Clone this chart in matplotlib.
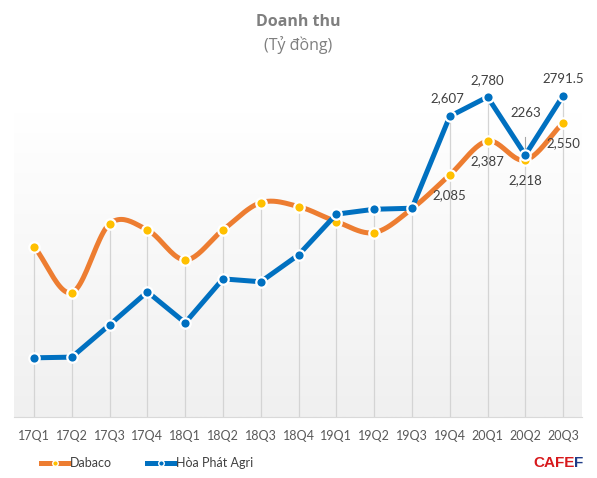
import numpy as np
import matplotlib.pyplot as plt
from matplotlib.lines import Line2D

plt.rcParams['font.family'] = ['Lato', 'DejaVu Sans']

quarters = ['17Q1', '17Q2', '17Q3', '17Q4', '18Q1', '18Q2', '18Q3', '18Q4',
            '19Q1', '19Q2', '19Q3', '19Q4', '20Q1', '20Q2', '20Q3']
dabaco = [1448, 1038, 1650, 1596, 1329, 1596, 1839, 1804,
          1670, 1572, 1785, 2085, 2387, 2218, 2550]
hoa_phat = [457, 463, 751, 1045, 769, 1160, 1134, 1374,
            1736, 1780, 1789, 2607, 2780, 2263, 2791.5]

# labels shown only for the last quarters
dabaco_labels = {11: '2,085', 12: '2,387', 13: '2,218', 14: '2,550'}
hoa_phat_labels = {11: '2,607', 12: '2,780', 13: '2263', 14: '2791.5'}

ORANGE = '#ED7D31'
GOLD = '#FFC000'
BLUE = '#0070C0'
LABEL = '#404040'


def catmull_rom(x, y, n=24):
    # smooth curve through the points, like excel's smoothed line
    x = np.asarray(x, float)
    y = np.asarray(y, float)
    px = np.concatenate([[2 * x[0] - x[1]], x, [2 * x[-1] - x[-2]]])
    py = np.concatenate([[2 * y[0] - y[1]], y, [2 * y[-1] - y[-2]]])
    xs, ys = [], []
    t = np.linspace(0, 1, n)
    for i in range(1, len(px) - 2):
        for p, out in ((px, xs), (py, ys)):
            p0, p1, p2, p3 = p[i - 1], p[i], p[i + 1], p[i + 2]
            seg = 0.5 * ((2 * p1) + (-p0 + p2) * t +
                         (2 * p0 - 5 * p1 + 4 * p2 - p3) * t ** 2 +
                         (-p0 + 3 * p1 - 3 * p2 + p3) * t ** 3)
            out.extend(seg)
    return np.array(xs), np.array(ys)


fig = plt.figure(figsize=(5.97, 4.78), dpi=100)
ax = fig.add_axes([14 / 597, 1 - 417 / 478, 568 / 597, 347 / 478])

ymin, ymax = -70, 3020
ax.set_xlim(-0.53, 14.5)
ax.set_ylim(ymin, ymax)

# gradient background
grad = np.linspace(1, 0, 256).reshape(-1, 1)
ax.imshow(grad, extent=[-0.53, 14.5, ymin, 2640], aspect='auto',
          cmap=plt.matplotlib.colors.LinearSegmentedColormap.from_list(
              'bg', ['#f0f0f0', '#ffffff']), zorder=0)

x = np.arange(len(quarters))

# drop lines
tops = np.maximum(dabaco, hoa_phat)
ax.vlines(x, ymin, tops, color='#d4d4d4', lw=0.9, zorder=1)
ax.plot([13, 13], [hoa_phat[13], 2420], color='#a6a6a6', lw=0.8, zorder=1)

sx, sy = catmull_rom(x, dabaco)
ax.plot(sx, sy, color=ORANGE, lw=3.6, solid_capstyle='butt', zorder=3)
ax.plot(x, dabaco, ls='none', marker='o', ms=7.5, mfc=GOLD, mec='white',
        mew=1.6, zorder=4)

ax.plot(x, hoa_phat, color=BLUE, lw=3.6, zorder=5)
ax.plot(x, hoa_phat, ls='none', marker='o', ms=7.5, mfc=BLUE, mec='white',
        mew=1.6, zorder=6)

for i, s in dabaco_labels.items():
    ax.annotate(s, (i, dabaco[i]), xytext=(0, -10), textcoords='offset points',
                ha='center', va='top', fontsize=9.5, color=LABEL)
for i, s in hoa_phat_labels.items():
    off = (0, 8)
    if i == 11:
        off = (-2, 9)
    if i == 13:
        off = (0, 26)
    ax.annotate(s, (i, hoa_phat[i]), xytext=off, textcoords='offset points',
                ha='center', va='bottom', fontsize=9.5, color=LABEL)

for side in ['left', 'right', 'top']:
    ax.spines[side].set_visible(False)
ax.spines['bottom'].set_color('#d9d9d9')
ax.set_yticks([])
ax.set_xticks(x)
ax.set_xticklabels(quarters, fontsize=9, color='#595959')
ax.tick_params(axis='x', length=0, pad=9)

fig.text(0.5, 1 - 22 / 478, 'Doanh thu', ha='center', va='center',
         fontsize=11.5, fontweight='bold', color='#7f7f7f',
         family=['Open Sans', 'DejaVu Sans'])
fig.text(0.5, 1 - 45 / 478, '(Tỷ đồng)', ha='center', va='center',
         fontsize=11.5, color='#7f7f7f', family=['Open Sans', 'DejaVu Sans'])

handles = [
    Line2D([], [], color=ORANGE, lw=3.6, marker='o', ms=4, mfc=GOLD,
           mec='white', mew=1),
    Line2D([], [], color=BLUE, lw=3.6, marker='o', ms=4, mfc=BLUE,
           mec='white', mew=1),
]
fig.legend(handles, ['Dabaco', 'Hòa Phát Agri'], loc='center left',
           bbox_to_anchor=(30 / 597, 1 - 463 / 478), ncol=2, frameon=False,
           fontsize=9, handlelength=2.2, handletextpad=0.1, columnspacing=2.8,
           labelcolor='#404040')

# cafef logo
logo = fig.text(533 / 597, 1 - 463 / 478, 'CAFE', ha='left', va='center',
                fontsize=11, fontweight='bold', color='#d7191c',
                family=['Liberation Sans', 'DejaVu Sans'])
fig.canvas.draw()
bb = logo.get_window_extent()
fig.text(bb.x1 / fig.bbox.width, 1 - 463 / 478, 'F', ha='left', va='center',
         fontsize=11, fontweight='bold', color='#1f3c88',
         family=['Liberation Sans', 'DejaVu Sans'])

fig.savefig('out.png', dpi=100)
